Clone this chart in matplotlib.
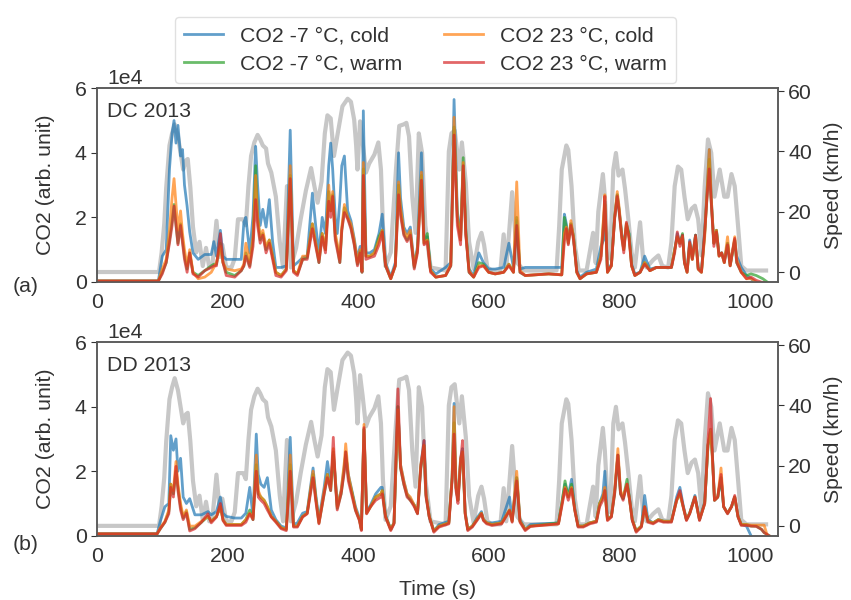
import numpy as np
import matplotlib
matplotlib.use("Agg")
import matplotlib.pyplot as plt

plt.rcParams['font.family'] = ['Liberation Sans', 'DejaVu Sans']
plt.rcParams['font.size'] = 15.3
plt.rcParams['text.color'] = '0.2'
plt.rcParams['axes.labelcolor'] = '0.2'
plt.rcParams['xtick.color'] = '0.2'
plt.rcParams['ytick.color'] = '0.2'
plt.rcParams['axes.edgecolor'] = '0.35'

# vehicle speed trace (km/h), same cycle for both tests
speed_t = [0, 95, 99, 103, 106, 111, 115, 119, 124, 128,
           132, 136, 139, 143, 147, 152, 157, 162, 167, 172,
           177, 183, 188, 192, 198, 206, 211, 216, 224, 228,
           232, 236, 241, 246, 250, 254, 259, 262, 267, 274,
           280, 285, 291, 297, 305, 312, 320, 328, 333, 338,
           344, 349, 353, 358, 363, 368, 376, 384, 389, 394,
           397, 399, 403, 407, 412, 417, 425, 431, 435, 438,
           442, 450, 458, 463, 470, 474, 478, 483, 488, 493,
           498, 503, 511, 534, 539, 543, 548, 552, 555, 559,
           565, 570, 577, 584, 589, 593, 598, 605, 618, 623,
           627, 632, 636, 644, 654, 704, 708, 712, 719, 722,
           727, 732, 738, 750, 760, 764, 768, 775, 778, 782,
           786, 791, 795, 799, 805, 809, 814, 819, 824, 832,
           837, 842, 852, 860, 866, 875, 880, 885, 890, 895,
           900, 905, 911, 916, 921, 926, 931, 936, 941, 946,
           954, 961, 966, 972, 977, 982, 987, 995, 1025]
speed_v = [0, 0, 6.5, 16, 28, 42, 46, 49, 45, 39.5,
           34, 37, 37.5, 28, 15, 6.5, 10, 2, 8, 1.5,
           3, 17, 5, 9, 1.5, 1.5, 4.5, 17.5, 17.5, 15.5,
           28.5, 38.5, 43, 45.5, 44, 42, 41, 36, 33, 25,
           10, 1.5, 28.5, 1.5, 8, 17.5, 27, 34.5, 28.5, 23,
           30, 46, 52, 51, 38.5, 45, 55, 57.5, 56.5, 50.5,
           42, 34, 50, 43, 33, 36, 39, 43, 34, 15.5,
           2, 6.5, 34, 48.5, 49, 49.5, 45, 25, 13, 46,
           39.5, 15.5, 1.5, 0.5, 40, 46, 47, 39.5, 34, 43,
           29.5, 10, 1, 10, 13, 9, 1.5, 0.5, 0.5, 12.5,
           1.5, 15, 26.5, 3, 0.5, 0.5, 15, 34, 42, 40.5,
           28.5, 9, 0.5, 0.5, 13, 3, 20, 32.5, 25, 9,
           4.5, 34, 39.5, 32, 34, 27.5, 17.5, 6.5, 1.5, 16.5,
           3.3, 1.5, 4, 5.5, 2, 1.5, 10, 28.5, 35, 34,
           25, 17.5, 21, 22, 17.5, 5.5, 28.5, 44, 39.5, 25,
           34, 25, 25, 32.5, 28.5, 15.5, 2, 0.5, 0.5]

# DC 2013 test, CO2 in units of 1e4
dc_t = [0, 94, 100, 106, 111, 115, 118, 121, 124, 128,
        131, 134, 138, 142, 147, 155, 165, 175, 179, 183,
        189, 193, 198, 211, 221, 225, 228, 234, 239, 243,
        246, 250, 254, 259, 264, 269, 274, 282, 290, 296,
        301, 307, 315, 322, 330, 335, 340, 345, 350, 355,
        358, 361, 365, 368, 372, 375, 379, 384, 389, 394,
        399, 403, 406, 408, 412, 418, 425, 432, 437, 442,
        450, 457, 462, 465, 470, 475, 480, 486, 491, 497,
        501, 506, 511, 519, 534, 542, 547, 552, 557, 561,
        565, 570, 577, 585, 592, 600, 610, 623, 631, 638,
        643, 648, 656, 692, 712, 716, 719, 722, 726, 730,
        735, 740, 750, 765, 772, 776, 778, 782, 788, 793,
        797, 800, 804, 807, 811, 815, 819, 824, 832, 839,
        847, 857, 880, 885, 889, 893, 897, 900, 904, 908,
        912, 917, 921, 926, 931, 934, 938, 941, 945, 949,
        953, 957, 961, 966, 970, 977, 980, 987, 995, 1002,
        1010, 1020, 1030]
dc_m7_cold = [0.03, 0.03, 0.8, 1.0, 3.5, 4.6, 5.0, 4.3, 4.85, 3.9,
              4.1, 3.0, 2.35, 1.55, 0.9, 0.7, 0.85, 0.85, 1.25, 0.8,
              1.6, 0.8, 0.7, 0.7, 0.7, 1.85, 2.0, 0.9, 2.05, 4.2,
              3.0, 1.75, 2.25, 1.7, 2.55, 1.25, 0.45, 0.45, 0.5, 4.7,
              0.5, 0.6, 0.75, 0.8, 2.75, 1.75, 0.9, 2.0, 1.5, 3.6,
              4.3, 3.5, 2.0, 1.5, 2.5, 3.6, 3.9, 2.2, 1.9, 1.35,
              0.7, 1.1, 0.4, 5.3, 0.9, 0.9, 1.0, 1.5, 2.1, 0.6,
              0.15, 0.6, 4.0, 2.6, 1.7, 1.5, 1.7, 0.5, 1.1, 4.0,
              1.3, 1.4, 0.4, 0.25, 0.45, 0.6, 5.65, 2.2, 1.4, 3.6,
              1.5, 0.4, 0.2, 0.9, 0.6, 0.4, 0.4, 0.45, 1.2, 0.45,
              1.9, 0.4, 0.45, 0.45, 0.45, 2.1, 1.8, 1.3, 1.8, 1.4,
              0.35, 0.15, 0.3, 0.4, 1.1, 1.3, 2.5, 0.35, 0.55, 2.0,
              2.7, 2.2, 1.5, 1.1, 1.7, 1.5, 0.55, 0.25, 0.3, 0.8,
              0.4, 0.45, 0.45, 1.0, 1.5, 1.2, 1.45, 0.6, 0.35, 1.3,
              0.75, 1.45, 0.45, 0.35, 1.6, 2.6, 4.1, 2.6, 1.2, 1.6,
              0.85, 0.9, 0.65, 1.2, 0.55, 1.3, 0.8, 0.45, 0.2, 0.1,
              -0.05, -0.05, -0.1]
dc_m7_warm = [0.03, 0.03, 0.3, 0.6, 1.3, 1.9, 2.4, 1.8, 1.2, 1.8,
              1.3, 0.8, 0.4, 0.9, 0.3, 0.2, 0.35, 0.5, 0.55, 0.55,
              1.2, 0.6, 0.3, 0.2, 0.35, 0.5, 0.9, 0.5, 1.3, 3.6,
              2.0, 1.3, 1.5, 1.0, 1.3, 0.8, 0.3, 0.2, 0.4, 3.3,
              0.35, 0.25, 0.7, 0.75, 1.8, 1.2, 0.6, 1.5, 1.0, 2.8,
              2.2, 2.7, 1.4, 1.1, 0.6, 1.6, 2.3, 2.0, 1.7, 1.2,
              0.55, 0.95, 0.3, 3.5, 0.8, 0.8, 0.9, 1.4, 1.6, 0.5,
              0.1, 0.5, 3.0, 2.2, 1.5, 1.3, 1.5, 0.45, 1.0, 3.3,
              1.2, 1.5, 0.35, 0.15, 0.2, 0.5, 4.8, 2.0, 1.3, 3.85,
              1.6, 0.3, 0.15, 0.6, 0.55, 0.3, 0.25, 0.3, 0.55, 0.3,
              2.0, 0.3, 0.2, 0.25, 0.22, 2.0, 1.7, 1.2, 1.8, 1.4,
              0.3, 0.1, 0.25, 0.3, 0.8, 1.9, 2.4, 0.3, 0.5, 2.0,
              2.7, 2.2, 1.4, 1.0, 1.8, 1.5, 0.5, 0.2, 0.3, 0.6,
              0.35, 0.45, 0.45, 1.0, 1.4, 1.2, 1.5, 0.6, 0.3, 1.2,
              0.7, 1.45, 0.4, 0.3, 1.5, 2.5, 3.8, 2.5, 1.2, 1.6,
              0.8, 0.9, 0.6, 1.2, 0.5, 1.3, 0.6, 0.3, 0.2, 0.25,
              0.2, 0.1, -0.05]
dc_23_cold = [0.03, 0.03, 0.4, 0.7, 1.6, 2.6, 3.2, 2.4, 1.6, 2.2,
              1.5, 1.0, 0.5, 1.0, 0.3, 0.1, 0.15, 0.3, 0.45, 0.6,
              1.1, 0.6, 0.4, 0.35, 0.4, 0.55, 1.2, 0.6, 1.4, 3.3,
              2.0, 1.4, 1.6, 1.1, 1.3, 0.8, 0.3, 0.2, 0.4, 3.6,
              0.35, 0.25, 0.8, 0.8, 1.8, 1.2, 0.7, 1.5, 1.0, 3.0,
              2.2, 2.8, 1.5, 1.2, 0.7, 1.7, 2.4, 2.0, 1.8, 1.3,
              0.6, 1.0, 0.35, 3.7, 0.8, 0.8, 0.9, 1.3, 1.6, 0.55,
              0.1, 0.5, 3.1, 2.3, 1.6, 1.4, 1.6, 0.5, 1.0, 3.4,
              1.2, 1.3, 0.35, 0.15, 0.2, 0.55, 5.1, 2.0, 1.3, 3.7,
              1.5, 0.35, 0.15, 0.5, 0.5, 0.3, 0.25, 0.3, 0.55, 0.3,
              3.1, 0.35, 0.2, 0.25, 0.22, 1.5, 1.7, 1.2, 1.9, 1.4,
              0.3, 0.1, 0.25, 0.3, 0.8, 2.0, 2.7, 0.3, 0.5, 2.0,
              2.8, 2.3, 1.4, 1.0, 1.8, 1.4, 0.5, 0.2, 0.3, 0.6,
              0.35, 0.45, 0.45, 1.0, 1.4, 1.2, 1.4, 0.6, 0.3, 1.2,
              0.7, 1.4, 0.4, 0.3, 1.4, 2.6, 4.1, 2.6, 1.2, 1.6,
              0.8, 0.9, 0.6, 1.4, 0.5, 1.4, 0.7, 0.3, 0.1, 0.1,
              0.0, -0.05, -0.05]
dc_23_warm = [0.03, 0.03, 0.25, 0.6, 1.2, 1.75, 2.35, 1.75, 1.15, 1.75,
              1.2, 0.7, 0.3, 0.9, 0.25, 0.15, 0.35, 0.45, 0.5, 0.5,
              1.5, 0.6, 0.2, 0.15, 0.35, 0.5, 0.8, 0.45, 1.1, 2.55,
              1.75, 1.2, 1.45, 0.9, 1.2, 0.7, 0.2, 0.15, 0.35, 3.2,
              0.3, 0.2, 0.7, 0.7, 1.65, 1.1, 0.6, 1.4, 0.9, 2.5,
              2.0, 2.65, 1.3, 1.0, 0.6, 1.6, 2.15, 1.95, 1.65, 1.15,
              0.5, 0.9, 0.3, 3.3, 0.7, 0.75, 0.8, 1.15, 1.55, 0.5,
              0.1, 0.5, 2.7, 2.05, 1.45, 1.25, 1.45, 0.4, 0.9, 3.15,
              1.15, 1.25, 0.3, 0.15, 0.2, 0.5, 4.55, 1.75, 1.15, 3.6,
              1.45, 0.3, 0.15, 0.45, 0.5, 0.3, 0.25, 0.3, 0.5, 0.3,
              1.75, 0.3, 0.2, 0.25, 0.22, 1.25, 1.65, 1.15, 1.75, 1.3,
              0.3, 0.1, 0.25, 0.3, 0.7, 1.75, 2.65, 0.3, 0.5, 1.95,
              2.65, 2.15, 1.35, 0.9, 1.85, 1.35, 0.5, 0.2, 0.3, 0.55,
              0.35, 0.45, 0.45, 0.9, 1.55, 1.1, 1.45, 0.6, 0.3, 1.25,
              0.7, 1.45, 0.4, 0.3, 1.55, 2.45, 3.5, 2.45, 1.1, 1.55,
              0.8, 0.9, 0.6, 1.15, 0.5, 1.35, 0.6, 0.3, 0.1, 0.15,
              0.05, -0.02, -0.05]

# DD 2013 test, CO2 in units of 1e4
dd_t = [0, 92, 97, 104, 110, 113, 117, 121, 124, 128,
        132, 137, 142, 150, 160, 170, 175, 183, 189, 193,
        198, 211, 221, 228, 234, 239, 244, 247, 251, 256,
        261, 267, 274, 282, 290, 296, 301, 307, 315, 322,
        331, 335, 340, 348, 353, 358, 362, 365, 368, 374,
        379, 381, 385, 391, 396, 402, 405, 409, 413, 419,
        427, 435, 437, 442, 450, 455, 461, 465, 470, 475,
        480, 486, 491, 496, 501, 504, 509, 516, 524, 539,
        544, 547, 550, 553, 557, 560, 564, 568, 575, 582,
        589, 592, 597, 605, 620, 632, 636, 643, 648, 656,
        664, 707, 712, 717, 722, 727, 732, 737, 745, 755,
        765, 770, 775, 778, 782, 788, 793, 798, 802, 806,
        812, 816, 820, 826, 834, 839, 844, 852, 860, 868,
        880, 888, 893, 898, 903, 908, 916, 920, 923, 931,
        936, 940, 943, 946, 951, 956, 960, 966, 972, 977,
        982, 987, 995, 1002, 1010, 1018, 1022, 1030]
dd_m7_cold = [0.06, 0.06, 0.45, 0.9, 1.0, 3.1, 2.65, 3.0, 2.0, 2.4,
              1.2, 1.0, 1.15, 0.65, 0.65, 0.75, 0.65, 0.75, 1.2, 0.7,
              0.6, 0.55, 0.55, 0.7, 1.5, 0.6, 3.15, 1.9, 1.6, 1.5,
              1.8, 0.8, 0.5, 0.3, 0.25, 3.05, 0.35, 0.4, 0.7, 0.75,
              2.1, 1.3, 0.5, 1.5, 2.3, 1.6, 2.5, 1.8, 0.95, 1.4,
              2.2, 2.5, 1.9, 1.35, 0.9, 0.55, 0.2, 3.3, 0.75, 0.95,
              1.3, 1.5, 1.5, 0.65, 0.2, 0.4, 4.0, 2.2, 1.7, 1.3,
              1.15, 0.95, 0.7, 2.2, 2.95, 1.3, 0.6, 0.15, 0.35, 0.45,
              1.8, 4.1, 1.5, 1.1, 2.4, 2.7, 0.75, 0.2, 0.3, 0.55,
              0.75, 0.5, 0.4, 0.4, 0.45, 1.2, 0.5, 1.8, 0.5, 0.2,
              0.35, 0.4, 1.0, 1.6, 1.25, 1.75, 0.85, 0.3, 0.3, 0.4,
              0.45, 1.0, 1.3, 2.0, 0.55, 0.6, 1.4, 2.5, 1.35, 1.15,
              1.6, 1.15, 0.5, 0.15, 0.3, 1.25, 0.5, 0.4, 0.5, 0.45,
              0.45, 1.2, 1.5, 0.95, 0.5, 0.7, 1.25, 0.85, 0.5, 1.05,
              2.8, 3.3, 2.4, 1.1, 1.2, 1.8, 0.9, 0.7, 0.9, 1.2,
              0.6, 0.35, 0.3, 0.0, -0.3, -0.5, -0.6, -0.6]
dd_m7_warm = [0.06, 0.06, 0.22, 0.42, 0.75, 1.6, 1.3, 2.0, 1.5, 0.9,
              0.55, 0.75, 0.2, 0.25, 0.42, 0.6, 0.45, 0.6, 0.9, 0.5,
              0.35, 0.35, 0.35, 0.5, 0.8, 0.5, 2.2, 1.3, 1.2, 1.1,
              0.9, 0.6, 0.45, 0.25, 0.2, 2.2, 0.3, 0.3, 0.6, 0.7,
              1.9, 1.2, 0.4, 1.3, 1.9, 1.4, 2.6, 1.7, 0.85, 1.3,
              2.1, 2.6, 1.8, 1.3, 0.8, 0.5, 0.2, 3.3, 0.7, 0.9,
              1.2, 1.3, 1.4, 0.6, 0.2, 0.4, 4.0, 2.1, 1.6, 1.25,
              1.1, 0.95, 0.7, 2.1, 2.8, 1.25, 0.6, 0.15, 0.3, 0.4,
              1.8, 3.5, 1.5, 1.1, 2.3, 2.6, 0.7, 0.2, 0.3, 0.5,
              0.7, 0.5, 0.4, 0.35, 0.4, 0.8, 0.45, 1.8, 0.45, 0.2,
              0.3, 0.4, 1.0, 1.7, 1.2, 1.6, 0.8, 0.3, 0.3, 0.4,
              0.45, 1.0, 1.2, 1.4, 0.5, 0.6, 1.3, 2.5, 1.3, 1.15,
              1.75, 1.1, 0.5, 0.15, 0.3, 0.9, 0.45, 0.4, 0.5, 0.45,
              0.45, 1.1, 1.3, 0.9, 0.5, 0.7, 1.2, 0.8, 0.5, 1.0,
              2.8, 3.2, 2.4, 1.1, 1.2, 1.8, 0.9, 0.7, 0.9, 1.2,
              0.6, 0.35, 0.35, 0.3, 0.3, 0.2, 0.1, 0.0]
dd_23_cold = [0.06, 0.06, 0.25, 0.45, 0.8, 1.6, 1.4, 2.3, 1.6, 1.0,
              0.6, 0.8, 0.3, 0.3, 0.45, 0.6, 0.45, 0.6, 0.9, 0.5,
              0.35, 0.35, 0.35, 0.5, 0.7, 0.55, 2.5, 1.4, 1.2, 1.1,
              0.9, 0.6, 0.45, 0.25, 0.2, 2.5, 0.3, 0.3, 0.6, 0.7,
              2.0, 1.2, 0.4, 1.4, 1.9, 1.5, 2.7, 1.8, 0.9, 1.4,
              2.3, 2.85, 1.9, 1.3, 0.85, 0.5, 0.2, 3.45, 0.7, 0.9,
              1.2, 1.3, 1.4, 0.6, 0.2, 0.4, 3.9, 2.2, 1.7, 1.3,
              1.2, 0.95, 0.7, 2.2, 2.8, 1.3, 0.6, 0.15, 0.3, 0.4,
              1.8, 4.0, 1.5, 1.1, 2.4, 2.6, 0.7, 0.2, 0.3, 0.5,
              0.7, 0.5, 0.4, 0.35, 0.4, 0.8, 0.45, 2.0, 0.45, 0.2,
              0.3, 0.37, 0.95, 1.5, 1.2, 1.5, 0.8, 0.3, 0.3, 0.4,
              0.45, 1.0, 1.2, 1.5, 0.5, 0.6, 1.4, 2.7, 1.4, 1.2,
              1.6, 1.1, 0.5, 0.15, 0.3, 0.9, 0.45, 0.4, 0.5, 0.45,
              0.45, 1.1, 1.3, 0.9, 0.5, 0.7, 1.2, 0.8, 0.5, 1.0,
              2.8, 3.3, 2.3, 1.1, 1.2, 2.1, 0.9, 0.7, 0.9, 1.2,
              0.6, 0.35, 0.35, 0.33, 0.33, 0.33, 0.33, -0.2]
dd_23_warm = [0.06, 0.06, 0.22, 0.42, 0.68, 1.5, 1.2, 2.15, 1.4, 0.8,
              0.5, 0.7, 0.15, 0.22, 0.42, 0.68, 0.4, 0.58, 1.0, 0.47,
              0.32, 0.32, 0.32, 0.42, 0.68, 0.5, 2.0, 1.2, 1.1, 1.0,
              0.8, 0.58, 0.42, 0.22, 0.16, 2.0, 0.27, 0.27, 0.58, 0.68,
              1.8, 1.1, 0.37, 1.3, 1.8, 1.4, 3.05, 1.7, 0.8, 1.3,
              2.0, 2.6, 1.7, 1.2, 0.78, 0.47, 0.16, 3.35, 0.68, 0.9,
              1.1, 1.2, 1.3, 0.58, 0.16, 0.37, 4.55, 2.1, 1.6, 1.2,
              1.1, 0.9, 0.68, 2.1, 2.95, 1.2, 0.58, 0.11, 0.27, 0.37,
              1.7, 3.15, 1.4, 1.0, 2.3, 2.95, 0.68, 0.16, 0.27, 0.47,
              0.68, 0.47, 0.37, 0.32, 0.37, 0.78, 0.42, 1.7, 0.42, 0.16,
              0.29, 0.37, 0.9, 1.45, 1.1, 1.45, 0.78, 0.27, 0.27, 0.37,
              0.42, 0.9, 1.1, 1.4, 0.47, 0.58, 1.3, 2.5, 1.3, 1.1,
              1.6, 1.1, 0.47, 0.11, 0.27, 0.9, 0.42, 0.37, 0.47, 0.42,
              0.42, 1.1, 1.4, 0.9, 0.47, 0.68, 1.2, 0.8, 0.47, 1.0,
              2.95, 4.25, 2.4, 1.1, 1.2, 1.9, 0.9, 0.68, 0.9, 1.25,
              0.58, 0.32, 0.32, 0.3, 0.29, 0.2, 0.1, 0.0]

labels = ['CO2 -7 °C, cold', 'CO2 -7 °C, warm',
          'CO2 23 °C, cold', 'CO2 23 °C, warm']
colors = ['tab:blue', 'tab:green', 'tab:orange', 'tab:red']

panels = [
    ('DC 2013', '(a)', 0.522, dc_t, [dc_m7_cold, dc_m7_warm, dc_23_cold, dc_23_warm]),
    ('DD 2013', '(b)', 0.092, dd_t, [dd_m7_cold, dd_m7_warm, dd_23_cold, dd_23_warm]),
]

fig, axes = plt.subplots(2, 1, figsize=(8.51, 6), dpi=100)
fig.subplots_adjust(left=0.114, right=0.914, top=0.853, bottom=0.107, hspace=0.31)

for ax, (name, tag, tag_y, t, series) in zip(axes, panels):
    ax2 = ax.twinx()
    ax2.plot(speed_t, speed_v, color='0.78', lw=3)
    ax2.set_ylim(-3.3, 61)
    ax2.set_yticks([0, 20, 40, 60])
    ax2.set_ylabel('Speed (km/h)', labelpad=9)

    handles = []
    for vals, c, lab in zip(series, colors, labels):
        h, = ax.plot(t, np.array(vals) * 1e4, color=c, lw=2, alpha=0.7, label=lab)
        handles.append(h)
    # CO2 traces above the speed trace
    ax.set_zorder(ax2.get_zorder() + 1)
    ax.patch.set_visible(False)

    ax.set_xlim(0, 1043)
    ax.set_ylim(0, 6e4)
    ax.set_yticks([0, 2e4, 4e4, 6e4])
    ax.ticklabel_format(style='sci', axis='y', scilimits=(0, 0))
    ax.yaxis.get_offset_text().set_x(0.015)
    ax.set_ylabel('CO2 (arb. unit)', labelpad=14)
    ax.text(0.015, 0.93, name, transform=ax.transAxes, ha='left', va='top')
    ax.tick_params(axis='x', length=0, pad=8)
    ax.tick_params(axis='y', length=4)
    ax2.tick_params(axis='y', length=4)
    for a in (ax, ax2):
        for s in a.spines.values():
            s.set_linewidth(1.1)

    fig.text(0.03, tag_y, tag, ha='center', va='center')

axes[1].set_xlabel('Time (s)', labelpad=10)

leg = fig.legend(handles, labels, loc='upper center', bbox_to_anchor=(0.5, 0.99),
                 ncol=2, frameon=True, handlelength=1.8,
                 columnspacing=2.0, borderpad=0.45, labelspacing=0.45)
leg.get_frame().set_edgecolor('0.85')

fig.savefig('out.png', dpi=100)
